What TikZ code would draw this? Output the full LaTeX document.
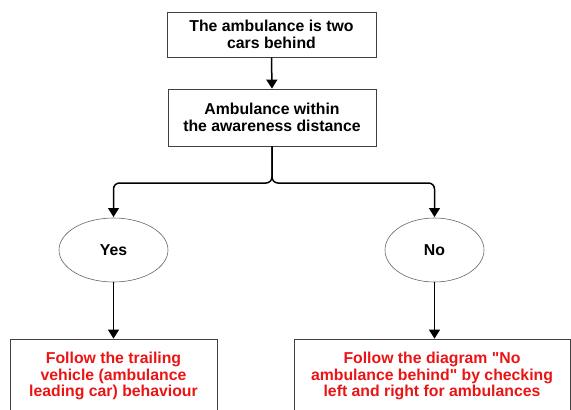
\documentclass[tikz,border=0pt]{standalone}
\usepackage{fontspec}
\setmainfont{Liberation Sans}
\usetikzlibrary{arrows.meta,shapes.geometric}
\definecolor{redtxt}{RGB}{235,20,20}
\begin{document}
\begin{tikzpicture}[x=1pt,y=-1pt,
  boxnode/.style={draw=black!75,line width=0.8pt,align=center,inner sep=0pt,
    font=\bfseries\fontsize{15.8}{16.5}\selectfont},
  ovalnode/.style={ellipse,draw=black!60,line width=0.6pt,inner sep=0pt,
    font=\bfseries\fontsize{15.8}{16.5}\selectfont},
  redbox/.style={boxnode,text=redtxt},
  conn/.style={line width=1.5pt,-{Triangle[width=11pt,length=9pt]}},
  branch/.style={conn,rounded corners=6pt}]
\useasboundingbox (0,0) rectangle (571,410);
\node[boxnode,minimum width=209pt,minimum height=45pt] (top) at (271.5,34.5)
  {The ambulance is two\\cars behind};
\node[boxnode,minimum width=208pt,minimum height=57pt] (mid) at (272,117.5)
  {Ambulance within\\the awareness distance};
\node[ovalnode,minimum width=109pt,minimum height=64pt] (yes) at (113.5,250) {Yes};
\node[ovalnode,minimum width=99pt,minimum height=64pt] (no) at (434.5,250) {No};
\node[redbox,minimum width=207pt,minimum height=74pt] (lbox) at (113.5,376)
  {Follow the trailing\\vehicle (ambulance\\leading car) behaviour};
\node[redbox,minimum width=276pt,minimum height=74pt] (rbox) at (432,376)
  {Follow the diagram \textquotedbl No\\ambulance behind\textquotedbl{} by checking\\left and right for ambulances};
\coordinate (fork) at (272,183);
\coordinate (ltip) at (113.5,217);
\coordinate (rtip) at (434.5,217);
\draw[conn] (top.south) -- (mid.north);
\draw[branch] (mid.south) -- (fork) -| (ltip);
\draw[branch] (mid.south) -- (fork) -| (rtip);
\draw[conn] (yes.south) -- (lbox.north);
\draw[conn] (no.south) -- (no.south |- lbox.north);
\end{tikzpicture}
\end{document}
